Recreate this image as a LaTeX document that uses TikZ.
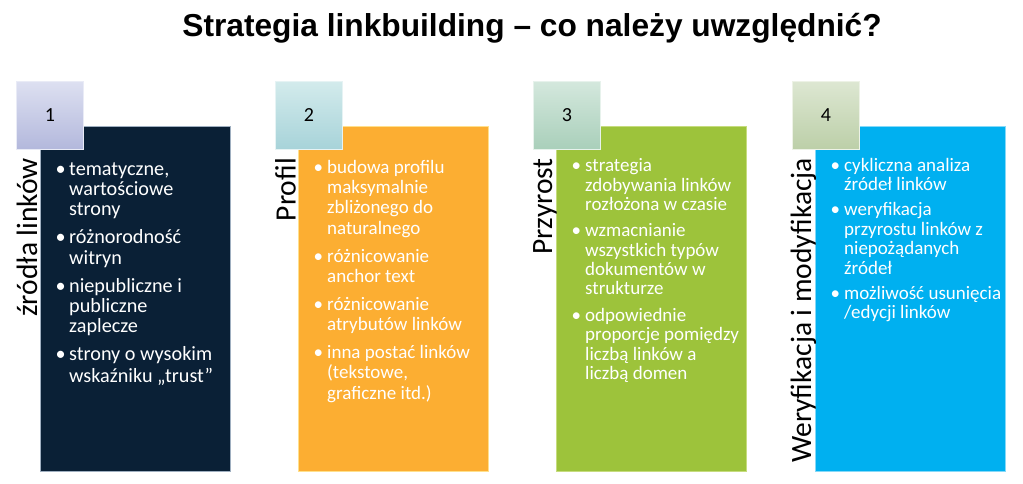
\documentclass[tikz,border=0pt]{standalone}
\usepackage{fontspec}
\setmainfont{Carlito}
\newfontfamily\titlefont{Liberation Sans}
\definecolor{navy}{HTML}{0A2036}
\definecolor{navyedge}{HTML}{9FAFC0}
\definecolor{orng}{HTML}{FCAE32}
\definecolor{orngedge}{HTML}{FFE08C}
\definecolor{grn}{HTML}{9DC33B}
\definecolor{grnedge}{HTML}{C6DC7E}
\definecolor{blu}{HTML}{00B0F0}
\definecolor{bluedge}{HTML}{86D9F8}
\definecolor{nAt}{HTML}{DDE0F1}\definecolor{nAb}{HTML}{B3B8DC}\definecolor{nAe}{HTML}{E9EBF6}
\definecolor{nBt}{HTML}{D3EBEC}\definecolor{nBb}{HTML}{A7D3D9}\definecolor{nBe}{HTML}{E6F3F4}
\definecolor{nCt}{HTML}{D4E8DD}\definecolor{nCb}{HTML}{A9CFBA}\definecolor{nCe}{HTML}{E7F2EC}
\definecolor{nDt}{HTML}{DDE7D2}\definecolor{nDb}{HTML}{BCCFA8}\definecolor{nDe}{HTML}{EDF2E6}
\newcommand\itm[1]{\par\hangindent=11pt\hangafter=1\noindent\hbox to 11pt{\strut\hskip-2.5pt•\hfil}#1\par}
\tikzset{
  panel/.style={anchor=north west, inner sep=0pt, minimum width=190pt, minimum height=345pt, line width=1.2pt},
  numbox/.style={anchor=north west, inner sep=0pt, minimum width=67pt, minimum height=68pt,
     font=\fontsize{20}{24}\selectfont, text=black, line width=0.8pt},
  vlabel/.style={rotate=90, anchor=base east, inner sep=0pt, font=\fontsize{29.5}{34}\selectfont, text=black},
  body/.style={anchor=north west, inner sep=0pt, text width=185pt, text=white, align=none},
  bodyA/.style={body, font=\fontsize{20.2}{20.3}\selectfont\setlength{\parskip}{7.7pt}},
  bodyD/.style={body, font=\fontsize{19}{20.3}\selectfont\setlength{\parskip}{7.7pt}},
  bodyB/.style={body, font=\fontsize{19}{19.3}\selectfont\setlength{\parskip}{7.3pt}},
  bodyC/.style={body, font=\fontsize{19}{19.5}\selectfont\setlength{\parskip}{5.5pt}},
}
\begin{document}
\begin{tikzpicture}[x=1pt,y=1pt]
\useasboundingbox (0,0) rectangle (1023,-484);
\fill[white] (0,0) rectangle (1023,-484);
\node[anchor=base, inner sep=0pt, font=\titlefont\bfseries\fontsize{31.7}{36}\selectfont] (title) at (532,-37) {Strategia linkbuilding – co należy uwzględnić?};
% panels
\node[panel, fill=navy, draw=navyedge] (p1) at (40,-126) {};
\node[panel, fill=orng, draw=orngedge] (p2) at (298,-126) {};
\node[panel, fill=grn, draw=grnedge] (p3) at (556,-126) {};
\node[panel, fill=blu, draw=bluedge] (p4) at (815,-126) {};
% number boxes
\node[numbox, top color=nAt, bottom color=nAb, draw=nAe] (n1) at (16,-81) {1};
\node[numbox, top color=nBt, bottom color=nBb, draw=nBe] (n2) at (275,-81) {2};
\node[numbox, top color=nCt, bottom color=nCb, draw=nCe] (n3) at (533,-81) {3};
\node[numbox, top color=nDt, bottom color=nDb, draw=nDe] (n4) at (792,-81) {4};
% vertical labels
\node[vlabel] (l1) at (37,-158) {źródła linków};
\node[vlabel] (l2) at (295.5,-158) {Profil};
\node[vlabel] (l3) at (552,-158) {Przyrost};
\node[vlabel] (l4) at (811,-158) {Weryfikacja i modyfikacja};
% bullet texts
\node[bodyA] (t1) at (58,-147) {%
\itm{tematyczne,\newline wartościowe\newline strony}%
\itm{różnorodność\newline witryn}%
\itm{niepubliczne i\newline publiczne\newline zaplecze}%
\itm{strony o wysokim\newline wskaźniku „trust”}};
\node[bodyD] (t2) at (316,-145) {%
\itm{budowa profilu\newline maksymalnie\newline zbliżonego do\newline naturalnego}%
\itm{różnicowanie\newline anchor text}%
\itm{różnicowanie\newline atrybutów linków}%
\itm{inna postać linków\newline (tekstowe,\newline graficzne itd.)}};
\node[bodyB] (t3) at (574,-145) {%
\itm{strategia\newline zdobywania linków\newline rozłożona w czasie}%
\itm{wzmacnianie\newline wszystkich typów\newline dokumentów w\newline strukturze}%
\itm{odpowiednie\newline proporcje pomiędzy\newline liczbą linków a\newline liczbą domen}};
\node[bodyC] (t4) at (833,-146) {%
\itm{cykliczna analiza\newline źródeł linków}%
\itm{weryfikacja\newline przyrostu linków z\newline niepożądanych\newline źródeł}%
\itm{możliwość usunięcia\newline /edycji linków}};
\end{tikzpicture}
\end{document}
